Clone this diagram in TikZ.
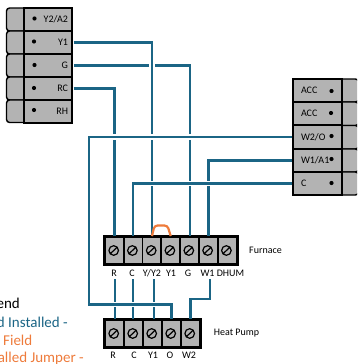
\documentclass[tikz,border=0pt]{standalone}
\usepackage{fontspec}
\setmainfont{Carlito}
\definecolor{wireblue}{HTML}{1B6585}
\definecolor{jumperorange}{HTML}{EE7B3B}
\definecolor{cellgray}{HTML}{B3B3B3}
\tikzset{
  rowcell/.style={draw=black,fill=cellgray,line width=1.4pt,minimum width=48pt,minimum height=23pt,inner sep=0pt,font=\fontsize{10}{10}\selectfont},
  lrow/.style={rowcell,text width=40pt,align=right},
  rrow/.style={rowcell,minimum width=49pt,text width=33pt,align=left},
  rowtab/.style={draw=black,fill=cellgray,line width=1.4pt,rounded corners=3pt},
  screwcell/.style={draw=black,fill=cellgray,line width=1.8pt,minimum width=18.9pt,minimum height=27pt,inner sep=0pt,
    path picture={\draw[line width=1.2pt,shift={(path picture bounding box.center)}] (-0.8,0) circle (4.8) (-3.8,2.8) -- (2.2,-2.8);}},
  wire/.style={draw=wireblue,line width=2.2pt},
  xwire/.style={wire,preaction={draw=white,line width=5.5pt,shorten >=3pt,shorten <=3pt}},
  termlabel/.style={font=\fontsize{10}{10}\selectfont,inner sep=0pt},
  legendtext/.style={inner sep=0pt,font=\fontsize{15}{15}\selectfont}
}
\begin{document}
\begin{tikzpicture}[x=1pt,y=-1pt]
\useasboundingbox (0,0) rectangle (357,364);
\clip (0,0) rectangle (357,364);
\filldraw[rowtab] (24,8) -- (6.5,8) -- (6.5,31) -- (24,31);
\filldraw[rowtab] (24,31) -- (6.5,31) -- (6.5,54) -- (24,54);
\filldraw[rowtab] (24,54) -- (6.5,54) -- (6.5,77) -- (24,77);
\filldraw[rowtab] (24,77) -- (6.5,77) -- (6.5,100) -- (24,100);
\filldraw[rowtab] (24,100) -- (6.5,100) -- (6.5,122.5) -- (24,122.5);
\node[lrow] (ya) at (48,19.5) {Y2/A2};
\node[lrow] (yone) at (48,42.5) {Y1};
\node[lrow] (gee) at (48,65.5) {G};
\node[lrow] (rc) at (48,88.5) {RC};
\node[lrow] (rh) at (48,111.5) {RH};
\fill (34.5,18.5) circle (2.1);
\fill (34,41.5) circle (2.1);
\fill (34.5,65) circle (2.1);
\fill (34,88) circle (2.1);
\fill (34,110) circle (2.1);
\filldraw[rowtab] (342,79) -- (358.5,79) -- (358.5,102) -- (342,102);
\filldraw[rowtab] (342,102) -- (358.5,102) -- (358.5,125.5) -- (342,125.5);
\filldraw[rowtab] (342,125.5) -- (358.5,125.5) -- (358.5,149) -- (342,149);
\filldraw[rowtab] (342,149) -- (358.5,149) -- (358.5,172) -- (342,172);
\filldraw[rowtab] (342,172) -- (358.5,172) -- (358.5,195) -- (342,195);
\node[rrow] (acca) at (317.5,90.5) {ACC};
\node[rrow] (accb) at (317.5,113.5) {ACC};
\node[rrow] (wtwo) at (317.5,137) {W2/O};
\node[rrow] (wone) at (317.5,160.5) {W1/A1};
\node[rrow] (cee) at (317.5,183.5) {C};
\fill (331.5,91) circle (2.1);
\fill (331,113) circle (2.1);
\fill (331.5,136) circle (2.1);
\fill (331.5,159) circle (2.1);
\fill (331.5,183) circle (2.1);
\node[screwcell] (fr) at (114.5,250.5) {};
\node[screwcell] (fc) at (133.2,250.5) {};
\node[screwcell] (fy) at (152,250.5) {};
\node[screwcell] (fyone) at (170.7,250.5) {};
\node[screwcell] (fg) at (189.6,250.5) {};
\node[screwcell] (fw) at (208.4,250.5) {};
\node[screwcell] (fd) at (227.2,250.5) {};
\node[screwcell] (hr) at (114.5,333.5) {};
\node[screwcell] (hc) at (133.5,333.5) {};
\node[screwcell] (hy) at (152.5,333.5) {};
\node[screwcell] (ho) at (171.5,333.5) {};
\node[screwcell] (hw) at (190.5,333.5) {};
\draw[line width=2.4pt] (fr.north west) rectangle (fd.south east);
\draw[line width=2.4pt] (hr.north west) rectangle (hw.south east);
\node[termlabel] (lfr) at (114,273) {R};
\node[termlabel] (lfc) at (132,273) {C};
\node[termlabel] (lfy) at (152,273) {Y/Y2};
\node[termlabel] (lfyone) at (171,273) {Y1};
\node[termlabel] (lfg) at (188,273) {G};
\node[termlabel] (lfw) at (207.5,273) {W1};
\node[termlabel] (lfd) at (230.5,273) {DHUM};
\node[termlabel] (furnace) at (265.5,250.5) {Furnace};
\node[termlabel] (lhr) at (113,355) {R};
\node[termlabel] (lhc) at (134,355) {C};
\node[termlabel] (lhy) at (153,355) {Y1};
\node[termlabel] (lho) at (170,355) {O};
\node[termlabel] (lhw) at (189,355) {W2};
\node[termlabel] (heatpump) at (236.5,333.5) {Heat Pump};
\coordinate (rtop) at (115,279);
\coordinate (ctop) at (133,279);
\coordinate (ytop) at (154,279);
\coordinate (wtop) at (210,279);
\coordinate (wbend) at (210,299);
\coordinate (obend) at (89,304.5);
\draw[wire,shorten <=1.5pt] (gee.east) -- (fg.north |- gee.east) -- (fg.north);
\draw[xwire,shorten <=1pt] (yone.east) -| (fy.north);
\draw[wire,shorten <=1pt] (rc.east) -| (fr.north);
\draw[wire] (wone.west) -| (fw.north);
\draw[wire] (rtop) -- (hr.north -| rtop);
\draw[wire] (ctop) -- (hc.north -| ctop);
\draw[wire] (ytop) -- (hy.north -| ytop);
\draw[xwire] (wtwo.west) -| (obend) -| (ho.north);
\draw[xwire] (cee.west) -| (fc.north);
\draw[wire] (wtop) -- (wbend) -| (hw.north);
\draw[draw=jumperorange,line width=2.2pt,rounded corners=3pt] (fy.north) -- (154.5,225.5) -- (167.5,225.5) -- (fyone.north);
\node[legendtext,anchor=base east] (lega) at (20,308.5) {end};
\node[legendtext,anchor=base east,text=wireblue] (legb) at (68,327) {d Installed -};
\node[legendtext,anchor=base west,text=jumperorange] (legc) at (3,345.5) {Field};
\node[legendtext,anchor=base east,text=jumperorange] (legd) at (84,362.5) {alled Jumper -};
\end{tikzpicture}
\end{document}
